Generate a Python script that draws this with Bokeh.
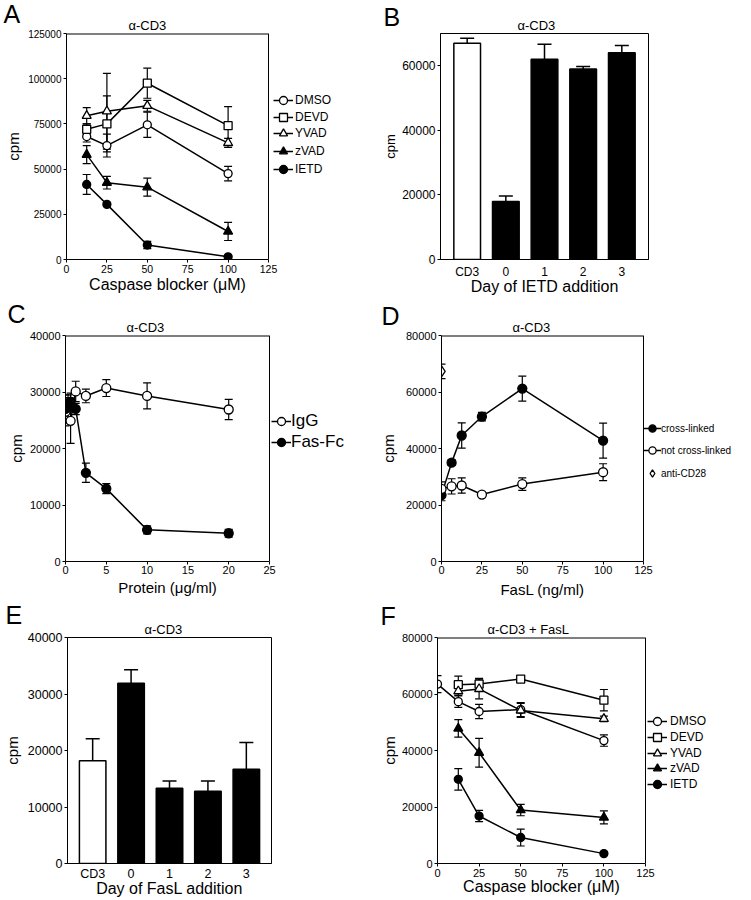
from bokeh.plotting import figure
from bokeh.layouts import row, column
from bokeh.models import (Range1d, FactorRange, FixedTicker, NumeralTickFormatter, Whisker,
                          TeeHead, ColumnDataSource, Legend, LegendItem, Label)
from bokeh.embed import file_html
from bokeh.resources import INLINE

FONT = "Liberation Sans"

# ---------------- data ----------------
# Panel A  (alpha-CD3, caspase blockers)
A_X = [12.5, 25, 50, 100]
A_DMSO = [68000, 63000, 74500, 47500]
A_DMSO_ERR = [3000, 6300, 7000, 4000]
A_DEVD = [72000, 75000, 97500, 74000]
A_DEVD_ERR = [3000, 15500, 8300, 10500]
A_YVAD = [79500, 82000, 85000, 64500]
A_YVAD_ERR = [4500, 21000, 3000, 2500]
A_ZVAD = [58000, 42500, 40000, 15500]
A_ZVAD_ERR = [5000, 3500, 5000, 5000]
A_IETD = [41500, 30500, 8000, 1500]
A_IETD_ERR = [5500, 1000, 2000, 800]
A_XTICKS = [0, 25, 50, 75, 100, 125]
A_YTICKS = [0, 25000, 50000, 75000, 100000, 125000]

# Panel B  (day of IETD addition)
B_CATS = ["CD3", "0", "1", "2", "3"]
B_VALS = [67000, 18000, 62000, 59000, 64000]
B_ERR = [1500, 1700, 4700, 800, 2300]
B_YTICKS = [0, 20000, 40000, 60000]

# Panel C  (Fas-Fc)
C_IGG_X = [0, 0.625, 1.25, 2.5, 5, 10, 20]
C_IGG = [26500, 24900, 30100, 29300, 30700, 29300, 26900]
C_IGG_ERR = [2500, 4000, 1800, 1200, 1500, 2300, 1800]
C_FAS_X = [0, 0.3125, 0.625, 1.25, 2.5, 5, 10, 20]
C_FAS = [27000, 28000, 28300, 27000, 15700, 12900, 5600, 5000]
C_FAS_ERR = [2500, 1500, 1500, 1000, 1700, 900, 700, 700]
C_XTICKS = [0, 5, 10, 15, 20, 25]
C_YTICKS = [0, 10000, 20000, 30000, 40000]

# Panel D  (FasL)
D_X = [0, 6.25, 12.5, 25, 50, 100]
D_CROSS = [23500, 35000, 44600, 51300, 61200, 42800]
D_CROSS_ERR = [2000, 1000, 4500, 1500, 4400, 6200]
D_NOT = [25700, 26600, 26900, 23700, 27400, 31600]
D_NOT_ERR = [2500, 2700, 2700, 700, 2200, 3000]
D_CD28_X = [0]
D_CD28 = [67300]
D_CD28_ERR = [2600]
D_XTICKS = [0, 25, 50, 75, 100, 125]
D_YTICKS = [0, 20000, 40000, 60000, 80000]

# Panel E  (day of FasL addition)
E_CATS = ["CD3", "0", "1", "2", "3"]
E_VALS = [18200, 31900, 13300, 12800, 16700]
E_ERR = [3900, 2400, 1300, 1800, 4700]
E_YTICKS = [0, 10000, 20000, 30000, 40000]

# Panel F  (alpha-CD3 + FasL, caspase blockers)
F_X = [12.5, 25, 50, 100]
F_DMSO_X = [0, 12.5, 25, 50, 100]
F_DMSO = [63500, 57300, 53800, 54500, 43500]
F_DMSO_ERR = [3000, 2000, 2500, 2500, 2000]
F_DEVD = [63300, 63500, 65300, 57800]
F_DEVD_ERR = [3000, 2000, 800, 3800]
F_YVAD = [61000, 61800, 54200, 51200]
F_YVAD_ERR = [1500, 3500, 2500, 1000]
F_ZVAD = [47800, 39200, 18900, 16300]
F_ZVAD_ERR = [3100, 5100, 2000, 2300]
F_IETD = [29800, 16800, 9200, 3500]
F_IETD_ERR = [3800, 2000, 3000, 500]
F_XTICKS = [0, 25, 50, 75, 100, 125]
F_YTICKS = [0, 20000, 40000, 60000, 80000]


# ---------------- helpers ----------------
def base_fig(w, h, borders, x_range, y_range, title, title_off):
    l, r, t, b = borders
    p = figure(width=w, height=h, min_border_left=l, min_border_right=r,
               min_border_top=t, min_border_bottom=b, x_range=x_range, y_range=y_range,
               output_backend="svg", toolbar_location=None, title=title)
    p.title.align = "left"
    p.title.offset = title_off
    p.title.text_font = FONT
    p.title.text_font_size = "13px"
    p.title.text_font_style = "normal"
    p.title.text_color = "black"
    p.title.standoff = 2
    p.xgrid.visible = False
    p.ygrid.visible = False
    p.outline_line_color = "black"
    p.outline_line_alpha = 1
    p.outline_line_width = 1
    p.background_fill_color = "white"
    p.border_fill_color = "white"
    for ax in (p.xaxis[0], p.yaxis[0]):
        ax.axis_line_color = "black"
        ax.major_tick_line_color = "black"
        ax.major_tick_in = 0
        ax.major_tick_out = 3
        ax.minor_tick_line_color = None
        ax.major_label_text_font = FONT
        ax.axis_label_text_font = FONT
        ax.axis_label_text_font_style = "normal"
        ax.major_label_text_color = "black"
        ax.axis_label_text_color = "black"
    return p


def wide_fig(w, h, borders, xmax, ymax, box_w, box_h, title, title_off):
    # the frame runs on to the right of the axis box so that the legend drawn
    # there is not clipped; the box itself is closed by two segments
    l, r, t, b = borders
    frame_px = w - l - r
    p = base_fig(w, h, borders, Range1d(0, xmax * frame_px / box_w), Range1d(0, ymax),
                 title, title_off)
    p.outline_line_color = None
    p.xaxis[0].bounds = (0, xmax)
    p.segment(x0=[0, xmax], y0=[ymax, 0], x1=[xmax, xmax], y1=[ymax, ymax],
              line_color="black", line_width=[2, 1])
    p._box = (xmax, ymax, box_h)
    return p


def x_title(p, text, fs, drop_px):
    # x-axis title centred under the axis box; drop_px = pixels below the box bottom
    xmax, ymax, box_h = p._box
    p.add_layout(Label(x=xmax / 2, y=-drop_px * ymax / box_h, text=text, text_font=FONT,
                       text_font_size=fs, text_color="black", text_align="center",
                       text_baseline="alphabetic"), "below")


def style_axes(p, xfs, yfs, xlfs, ylfs, xstand, ystand, xls, yls):
    p.xaxis[0].major_label_text_font_size = xfs
    p.yaxis[0].major_label_text_font_size = yfs
    p.xaxis[0].axis_label_text_font_size = xlfs
    p.yaxis[0].axis_label_text_font_size = ylfs
    p.xaxis[0].major_label_standoff = xstand
    p.yaxis[0].major_label_standoff = ystand
    p.xaxis[0].axis_label_standoff = xls
    p.yaxis[0].axis_label_standoff = yls


def add_errors(p, xs, ys, errs, head=8, up_only=False, lw=1.2):
    upper = [y + e for y, e in zip(ys, errs)]
    lower = list(ys) if up_only else [y - e for y, e in zip(ys, errs)]
    src = ColumnDataSource(dict(x=list(xs), upper=upper, lower=lower))
    w = Whisker(source=src, base="x", upper="upper", lower="lower", dimension="height",
                line_color="black", line_width=lw,
                upper_head=TeeHead(size=head, line_color="black", line_width=lw),
                lower_head=None if up_only else TeeHead(size=head, line_color="black", line_width=lw))
    p.add_layout(w)


def add_series(p, xs, ys, errs, marker, filled, label, size, line=True):
    add_errors(p, xs, ys, errs)
    src = ColumnDataSource(dict(x=list(xs), y=list(ys)))
    rs = []
    if line:
        rs.append(p.line("x", "y", source=src, line_color="black", line_width=1.5))
    rs.append(p.scatter("x", "y", source=src, marker=marker, size=size,
                        fill_color="black" if filled else "white",
                        line_color="black", line_width=1.3))
    return LegendItem(label=label, renderers=rs)


def add_legend(p, items, x, bottoms, gw, gh, standoff, fs):
    # one single-row legend per entry, so the row pitch is free of the glyph size
    for it, yb in zip(items, bottoms):
        lg = Legend(items=[it], location=(x, yb), glyph_width=gw, glyph_height=gh,
                    label_height=gh, spacing=0, label_standoff=standoff, padding=0, margin=0,
                    border_line_color=None, background_fill_alpha=0,
                    label_text_font=FONT, label_text_font_size=fs, label_text_color="black")
        p.add_layout(lg)


def add_letter(p, letter, x, y):
    p.add_layout(Label(x=x, y=y, x_units="screen", y_units="screen", text=letter,
                       text_font=FONT, text_font_size="25px", text_color="black",
                       text_baseline="alphabetic", text_align="left"), "right")


def num_axes(p, xticks, yticks):
    p.xaxis[0].ticker = FixedTicker(ticks=xticks)
    p.yaxis[0].ticker = FixedTicker(ticks=yticks)
    p.xaxis[0].formatter = NumeralTickFormatter(format="0")
    p.yaxis[0].formatter = NumeralTickFormatter(format="0")


def bar_panel(p, cats, vals, errs):
    fills = ["white" if c == "CD3" else "black" for c in cats]
    src = ColumnDataSource(dict(cat=cats, val=vals, fill=fills))
    p.vbar(x="cat", top="val", width=0.69, source=src, fill_color="fill",
           line_color="black", line_width=1.5)
    add_errors(p, cats, vals, errs, head=14, up_only=True, lw=1.5)
    p.xaxis[0].major_tick_line_color = None
    p.xaxis[0].major_tick_out = 0


# ---------------- Panel A ----------------
pA = wide_fig(365, 298, (66, 20, 33, 39), A_XTICKS[-1], A_YTICKS[-1], 202, 226, "\u03b1-CD3", 62)
num_axes(pA, A_XTICKS, A_YTICKS)
pA.yaxis[0].axis_label = "cpm"
style_axes(pA, "10.5px", "10px", "16px", "15px", 2, 2, 0, 3)
x_title(pA, "Caspase blocker (\u03bcM)", "16px", 24.8)
itA = [
    add_series(pA, A_X, A_DMSO, A_DMSO_ERR, "circle", False, "DMSO", 8),
    add_series(pA, A_X, A_DEVD, A_DEVD_ERR, "square", False, "DEVD", 8),
    add_series(pA, A_X, A_YVAD, A_YVAD_ERR, "triangle", False, "YVAD", 9),
    add_series(pA, A_X, A_ZVAD, A_ZVAD_ERR, "triangle", True, "zVAD", 9),
    add_series(pA, A_X, A_IETD, A_IETD_ERR, "circle", True, "IETD", 8),
]
add_legend(pA, itA, 207, [149, 132, 116, 98, 80], 20, 20, 2, "12px")
add_letter(pA, "A", -342, 246)

# ---------------- Panel B ----------------
pB = base_fig(386, 298, (75, 103, 33, 38), FactorRange(factors=B_CATS, range_padding=0.076),
              Range1d(0, 70000), "\u03b1-CD3", 77)
pB.yaxis[0].ticker = FixedTicker(ticks=B_YTICKS)
pB.yaxis[0].formatter = NumeralTickFormatter(format="0")
bar_panel(pB, B_CATS, B_VALS, B_ERR)
pB.xaxis[0].axis_label = "Day of IETD addition"
pB.yaxis[0].axis_label = "cpm"
style_axes(pB, "12px", "12px", "16px", "13px", 5, 2, -4, 1)
add_letter(pB, "B", -265, 243)

# ---------------- Panel C ----------------
pC = wide_fig(372, 302, (65, 20, 37, 37), C_XTICKS[-1], C_YTICKS[-1], 204, 228, "\u03b1-CD3", 61)
num_axes(pC, C_XTICKS, C_YTICKS)
pC.yaxis[0].axis_label = "cpm"
style_axes(pC, "11px", "11px", "15px", "15px", 1, 2, 0, 2)
x_title(pC, "Protein (\u03bcg/ml)", "15px", 26.3)
itC = [
    add_series(pC, C_IGG_X, C_IGG, C_IGG_ERR, "circle", False, "IgG", 9),
    add_series(pC, C_FAS_X, C_FAS, C_FAS_ERR, "circle", True, "Fas-Fc", 9),
]
add_legend(pC, itC, 206, [129, 108], 20, 22, 0, "17px")
add_letter(pC, "C", -345, 248)

# ---------------- Panel D ----------------
pD = wide_fig(379, 302, (69, 19, 35, 39), D_XTICKS[-1], D_YTICKS[-1], 202, 228, "\u03b1-CD3", 71)
num_axes(pD, D_XTICKS, D_YTICKS)
pD.yaxis[0].axis_label = "cpm"
style_axes(pD, "11px", "11px", "15px", "15px", 1, 2, 2, 6)
x_title(pD, "FasL (ng/ml)", "15px", 27.8)
itD = [
    add_series(pD, D_X, D_CROSS, D_CROSS_ERR, "circle", True, "cross-linked", 9),
    add_series(pD, D_X, D_NOT, D_NOT_ERR, "circle", False, "not cross-linked", 9),
    add_series(pD, D_CD28_X, D_CD28, D_CD28_ERR, "diamond", False, "anti-CD28", 11, line=False),
]
add_legend(pD, itD, 202, [122, 100, 77], 18, 22, 0, "10px")
add_letter(pD, "D", -351, 246)

# ---------------- Panel E ----------------
pE = base_fig(365, 300, (67, 94, 37, 37), FactorRange(factors=E_CATS, range_padding=0.062),
              Range1d(0, 40000), "\u03b1-CD3", 77)
pE.yaxis[0].ticker = FixedTicker(ticks=E_YTICKS)
pE.yaxis[0].formatter = NumeralTickFormatter(format="0")
bar_panel(pE, E_CATS, E_VALS, E_ERR)
pE.xaxis[0].axis_label = "Day of FasL addition"
pE.yaxis[0].axis_label = "cpm"
style_axes(pE, "12.5px", "12.5px", "16px", "15px", 3, 2, -4, 4)
add_letter(pE, "E", -266, 249)

# ---------------- Panel F ----------------
pF = wide_fig(386, 300, (72, 16, 35, 37), F_XTICKS[-1], F_YTICKS[-1], 208, 228,
              "\u03b1-CD3 + FasL", 50)
num_axes(pF, F_XTICKS, F_YTICKS)
pF.yaxis[0].axis_label = "cpm"
style_axes(pF, "11px", "11px", "16px", "15px", 2, 2, -3, 1)
x_title(pF, "Caspase blocker (\u03bcM)", "16px", 23.7)
itF = [
    add_series(pF, F_DMSO_X, F_DMSO, F_DMSO_ERR, "circle", False, "DMSO", 8),
    add_series(pF, F_X, F_DEVD, F_DEVD_ERR, "square", False, "DEVD", 8),
    add_series(pF, F_X, F_YVAD, F_YVAD_ERR, "triangle", False, "YVAD", 9),
    add_series(pF, F_X, F_ZVAD, F_ZVAD_ERR, "triangle", True, "zVAD", 9),
    add_series(pF, F_X, F_IETD, F_IETD_ERR, "circle", True, "IETD", 8),
]
add_legend(pF, itF, 210, [132, 116, 100, 85, 69], 20, 20, 3, "12px")
add_letter(pF, "F", -355, 248)

layout = column(row(pA, pB), row(pC, pD), row(pE, pF))
open("out.html", "w").write(file_html(layout, INLINE))
